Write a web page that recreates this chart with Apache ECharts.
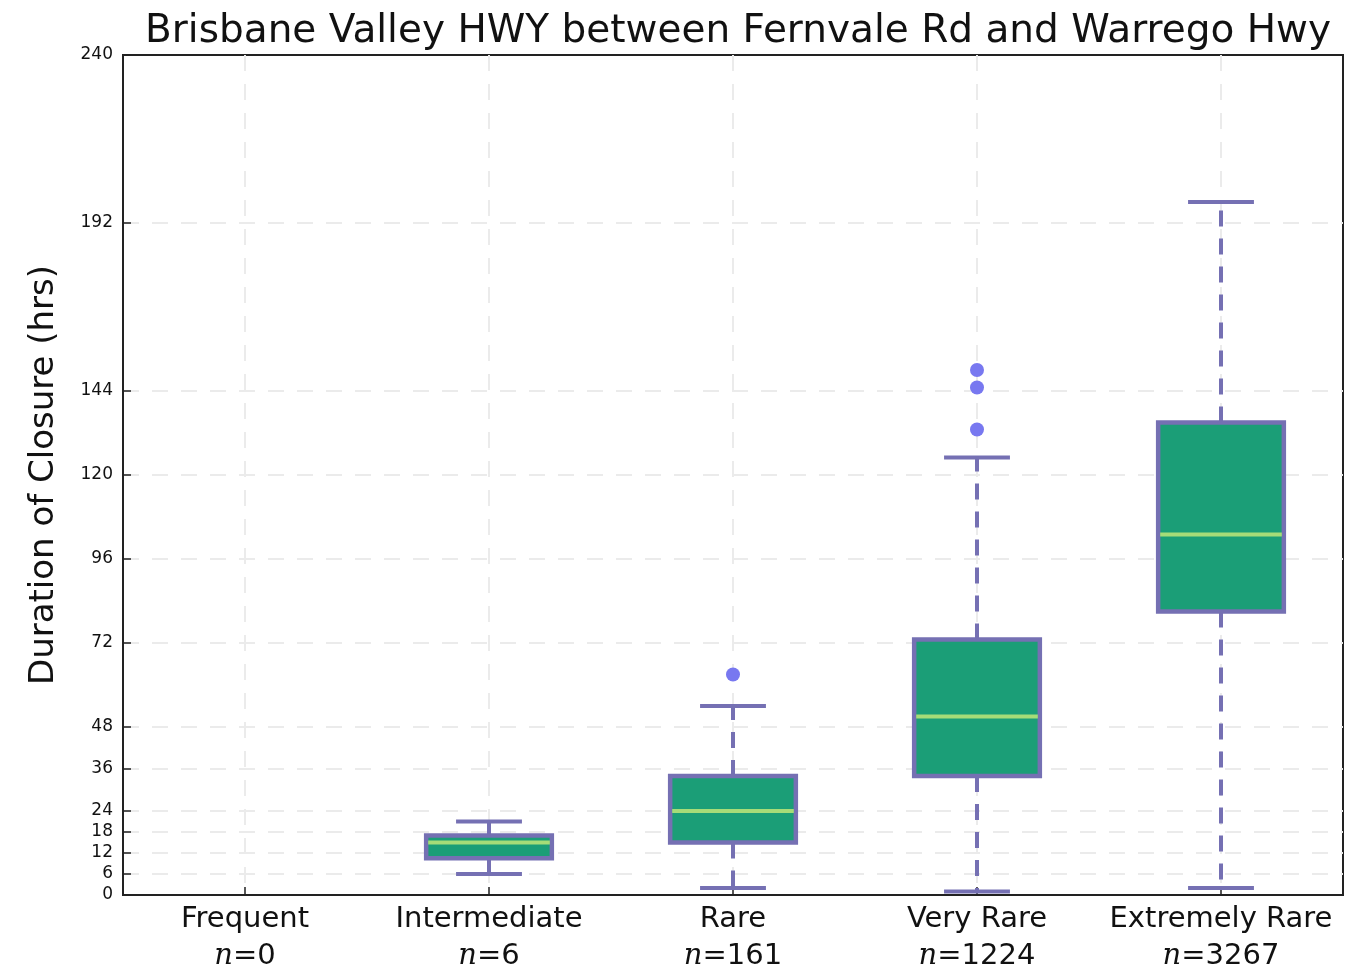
<!DOCTYPE html>
<html>
<head>
<meta charset="utf-8">
<script src="https://cdn.jsdelivr.net/npm/echarts@6/dist/echarts.min.js"></script>
<style>
  html, body { margin: 0; padding: 0; background: #fff; }
  #chart { width: 1370px; height: 973px; }
</style>
</head>
<body>
<div id="chart"></div>
<script>
// categories and sample counts
const categories = ['Frequent', 'Intermediate', 'Rare', 'Very Rare', 'Extremely Rare'];
const counts = [0, 6, 161, 1224, 3267];

// box statistics per category index: [index, low whisker, Q1, median, Q3, high whisker]
const boxStats = [
  [1, 6, 10.5, 15, 17, 21],
  [2, 2, 15, 24, 34, 54],
  [3, 1, 34, 51, 73, 125],
  [4, 2, 81, 103, 135, 198]
];

// outliers: [index, value]
const outliers = [
  [2, 63],
  [3, 133],
  [3, 145],
  [3, 150]
];

const yTicks = [0, 6, 12, 18, 24, 36, 48, 72, 96, 120, 144, 192, 240];
const xTicks = [0, 1, 2, 3, 4];

const boxFill = '#1b9e77';
const boxEdge = '#7570b3';
const medianColor = '#a6dc78';
const flierColor = '#7878f0';
const gridColor = '#ebebeb';

function renderBox(params, api) {
  const x = api.value(0);
  const low = api.coord([x, api.value(1)]);
  const q1 = api.coord([x, api.value(2)]);
  const med = api.coord([x, api.value(3)]);
  const q3 = api.coord([x, api.value(4)]);
  const high = api.coord([x, api.value(5)]);
  const step = api.size([1, 0])[0];
  const boxW = step * 0.515;
  const capW = step * 0.27;
  const cx = low[0];
  const dashed = { stroke: boxEdge, lineWidth: 4, lineDash: [16, 12], fill: null };
  const solid = { stroke: boxEdge, lineWidth: 4, fill: null };
  return {
    type: 'group',
    children: [
      { type: 'line', shape: { x1: cx, y1: q1[1], x2: cx, y2: low[1] }, style: dashed },
      { type: 'line', shape: { x1: cx, y1: q3[1], x2: cx, y2: high[1] }, style: dashed },
      { type: 'line', shape: { x1: cx - capW / 2, y1: low[1], x2: cx + capW / 2, y2: low[1] }, style: solid },
      { type: 'line', shape: { x1: cx - capW / 2, y1: high[1], x2: cx + capW / 2, y2: high[1] }, style: solid },
      {
        type: 'rect',
        shape: { x: cx - boxW / 2, y: q3[1], width: boxW, height: q1[1] - q3[1] },
        style: { fill: boxFill, stroke: boxEdge, lineWidth: 4.5 }
      },
      {
        type: 'line',
        shape: { x1: cx - boxW / 2 + 2, y1: med[1], x2: cx + boxW / 2 - 2, y2: med[1] },
        style: { stroke: medianColor, lineWidth: 4 }
      }
    ]
  };
}

const chart = echarts.init(document.getElementById('chart'));

chart.setOption({
  animation: false,
  backgroundColor: '#fff',
  title: {
    text: 'Brisbane Valley HWY between Fernvale Rd and Warrego Hwy',
    left: 733,
    textAlign: 'center',
    top: 7,
    textStyle: { fontFamily: 'DejaVu Sans', fontSize: 39, fontWeight: 'normal', color: '#111' }
  },
  grid: {
    left: 123, right: 27, top: 55, bottom: 78,
    show: true, borderColor: '#222', borderWidth: 2
  },
  xAxis: {
    type: 'value',
    min: -0.5,
    max: 4.5,
    axisLine: { show: true, onZero: false, lineStyle: { color: '#222', width: 2 } },
    axisTick: { show: true, inside: true, length: 8, customValues: xTicks, lineStyle: { color: '#222', width: 1.5 } },
    splitLine: { show: true, lineStyle: { color: gridColor, width: 2, type: [16, 13] } },
    axisLabel: {
      customValues: xTicks,
      margin: 6,
      formatter: function (v) {
        return '{c|' + categories[v] + '}\n{n|n}{e|=' + counts[v] + '}';
      },
      rich: {
        c: { fontFamily: 'DejaVu Sans', fontSize: 29, color: '#111', lineHeight: 37 },
        n: { fontFamily: 'DejaVu Serif', fontStyle: 'italic', fontSize: 29, color: '#111', lineHeight: 37 },
        e: { fontFamily: 'DejaVu Sans', fontSize: 29, color: '#111', lineHeight: 37 }
      }
    }
  },
  yAxis: {
    type: 'value',
    min: 0,
    max: 240,
    name: 'Duration of Closure (hrs)',
    nameLocation: 'middle',
    nameGap: 62,
    nameTextStyle: { fontFamily: 'DejaVu Sans', fontSize: 34, color: '#111' },
    axisLine: { show: true, onZero: false, lineStyle: { color: '#222', width: 2 } },
    axisTick: { show: true, inside: true, length: 8, customValues: yTicks, lineStyle: { color: '#222', width: 1.5 } },
    splitLine: { show: true, showMinLine: false, showMaxLine: false, lineStyle: { color: gridColor, width: 2, type: [16, 13] } },
    axisLabel: {
      customValues: yTicks,
      margin: 10,
      fontFamily: 'DejaVu Sans',
      fontSize: 17,
      color: '#111'
    }
  },
  series: [
    {
      type: 'custom',
      renderItem: renderBox,
      encode: { x: 0, y: [1, 2, 3, 4, 5] },
      data: boxStats,
      z: 3
    },
    {
      type: 'scatter',
      data: outliers,
      symbol: 'circle',
      symbolSize: 14,
      itemStyle: { color: flierColor, opacity: 1 },
      z: 4
    }
  ]
});
</script>
</body>
</html>
